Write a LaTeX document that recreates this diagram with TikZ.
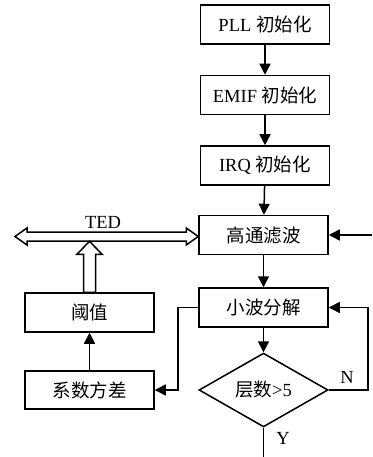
\documentclass[tikz,border=0pt]{standalone}
\usepackage{fontspec}
\setmainfont{Liberation Serif}
\newfontfamily\cjk{Noto Sans CJK SC}
\usetikzlibrary{arrows.meta,shapes.geometric,calc}
\begin{document}
\begin{tikzpicture}[x=1pt,y=-1pt,
  every node/.style={font=\fontsize{18.5}{22}\selectfont},
  box/.style={draw,line width=1.5pt,minimum width=129pt,minimum height=39pt,inner sep=0pt},
  dec/.style={draw,diamond,line width=1.5pt,minimum width=129pt,minimum height=56pt,inner sep=0pt},
  conn/.style={line width=1.5pt,-{Triangle[length=11pt,width=11pt]}},
  plain/.style={line width=1.5pt},
  hollow/.style={draw,line width=1.5pt,fill=white,line join=miter}]
\useasboundingbox (0,0) rectangle (372,457);
\node[box] (pll) at (265,24.5) {PLL {\cjk 初始化}};
\node[box] (emif) at (265,95) {EMIF {\cjk 初始化}};
\node[box] (irq) at (265,165.5) {IRQ {\cjk 初始化}};
\node[box] (hp) at (263.5,235) {\cjk 高通滤波};
\node[box] (wd) at (263.5,307.5) {\cjk 小波分解};
\node[dec] (dia) at (263.5,390) {{\cjk 层数}>5};
\node[box,minimum height=38pt] (coef) at (89.5,390) {\cjk 系数方差};
\node[box] (thr) at (89.5,312.5) {\cjk 阈值};
\node (ted) at (103,222) {TED};
\node (nlab) at (347,377) {N};
\node (ylab) at (283,438) {Y};
\coordinate (rin) at (372,235);
\coordinate (nloop) at (368,390);
\coordinate (lloop) at (178,307.5);
\coordinate (yend) at (263.5,457);
\coordinate (busL) at (15,236.5);
\draw[conn] (pll) -- (emif);
\draw[conn] (emif) -- (irq);
\draw[conn] (irq) -- (hp);
\draw[conn] (rin) -- (hp.east);
\draw[conn] (hp) -- (wd);
\draw[conn] (wd) -- (dia);
\draw[conn] (dia.east) -- (nloop) |- (wd.east);
\draw[conn] (wd.west) -- (lloop) |- (coef.east);
\draw[conn] (coef) -- (thr);
\draw[plain] (dia.south) -- (yend);
% TED double hollow arrow
\path[hollow] (busL) -- ++(12,-8.5) -- ++(0,4) -- ($(hp.west)+(-12,-3)$) -- ++(0,-4) -- ($(hp.west)+(0,1.5)$)
  -- ($(hp.west)+(-12,10)$) -- ++(0,-4) -- ($(busL)+(12,4.5)$) -- ++(0,4) -- cycle;
% hollow up arrow from threshold
\path[hollow] ($(thr.north)+(-6,0)$) -- ++(0,-38) -- ++(-6.5,0) -- ++(12.5,-13) -- ++(12.5,13) -- ++(-6.5,0) -- ($(thr.north)+(6,0)$) -- cycle;
\end{tikzpicture}
\end{document}
